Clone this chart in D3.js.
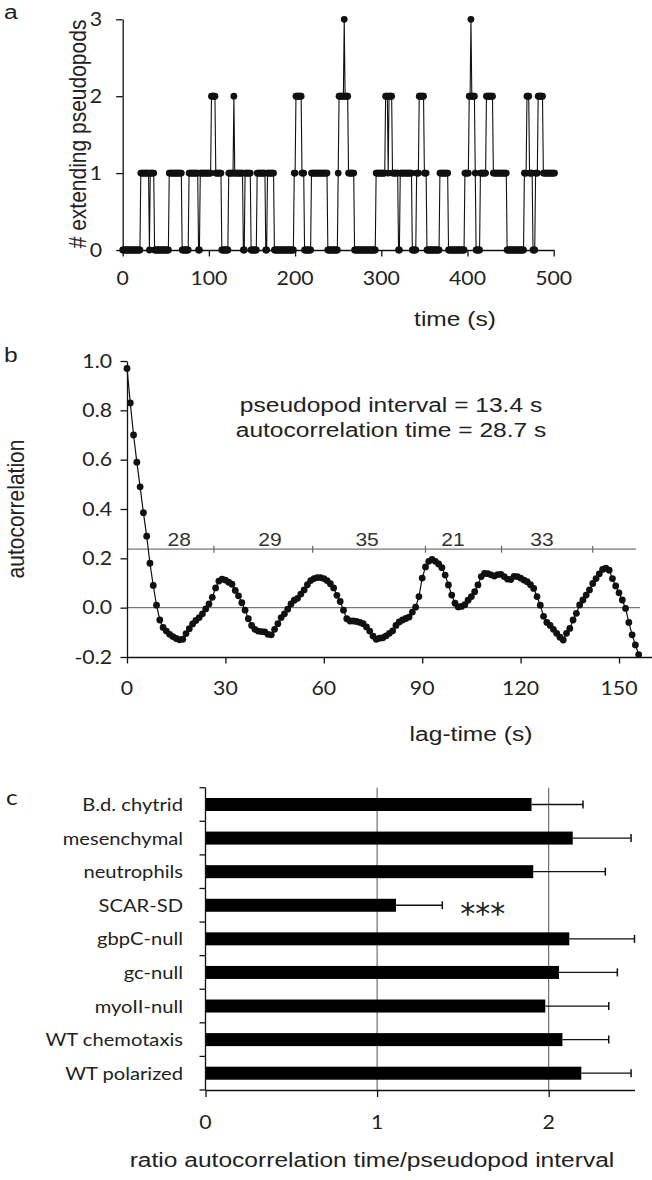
<!DOCTYPE html>
<html><head><meta charset="utf-8">
<script src="https://cdn.jsdelivr.net/npm/d3@7"></script>
<style>body{margin:0;background:#fff}svg{display:block}</style>
</head><body><svg id="fig" width="652" height="1180"></svg>
<script>
// ---------- Panel a: number of extending pseudopods (step runs, 1 s samples) ----------
const runStart = [0,21,31,32,37,54,69,77,88,90,103,108,115,123,129,130,140,142,149,156,166,168,176,199,201,208,211,219,238,250,251,257,258,262,269,294,305,308,309,313,320,322,336,341,344,350,353,368,378,397,402,404,405,409,410,415,422,430,446,466,469,472,476,479,482,488];
const runLevel = [0,1,0,1,0,1,0,1,0,1,2,1,0,1,2,1,0,1,0,1,0,1,0,1,2,1,0,1,0,1,2,3,2,1,0,1,2,1,2,1,0,1,0,1,2,1,0,1,0,1,2,3,2,1,0,1,2,1,0,1,2,1,0,1,2,1];
const seriesEnd = 501;
const timeTicks = [0,100,200,300,400,500];
const countTicks = [0,1,2,3];

// ---------- Panel b: autocorrelation per 1 s lag ----------
const acValues = [0.97,0.83,0.70,0.59,0.49,0.385,0.29,0.18,0.09,0.01,
 -0.05,-0.08,-0.095,-0.108,-0.117,-0.125,-0.13,-0.128,-0.105,-0.085,
 -0.066,-0.052,-0.04,-0.025,-0.005,0.015,0.042,0.08,0.108,0.116,
 0.112,0.103,0.095,0.07,0.048,0.02,-0.01,-0.045,-0.072,-0.088,
 -0.095,-0.097,-0.098,-0.108,-0.11,-0.088,-0.065,-0.04,-0.025,-0.006,
 0.015,0.03,0.038,0.055,0.072,0.093,0.11,0.118,0.122,0.122,
 0.118,0.11,0.097,0.08,0.05,0.025,-0.01,-0.045,-0.054,-0.054,
 -0.056,-0.06,-0.065,-0.078,-0.095,-0.115,-0.128,-0.124,-0.122,-0.114,
 -0.104,-0.094,-0.072,-0.058,-0.05,-0.044,-0.038,-0.018,0.002,0.045,
 0.12,0.165,0.188,0.196,0.188,0.177,0.162,0.132,0.092,0.051,
 0.018,0.003,0.005,0.012,0.03,0.045,0.065,0.092,0.126,0.139,
 0.138,0.133,0.128,0.134,0.135,0.126,0.116,0.114,0.127,0.126,
 0.12,0.112,0.105,0.093,0.078,0.045,0.01,-0.035,-0.06,-0.072,
 -0.088,-0.104,-0.12,-0.131,-0.104,-0.084,-0.05,-0.023,0.011,0.031,
 0.051,0.072,0.098,0.118,0.137,0.155,0.16,0.152,0.118,0.088,
 0.06,0.031,-0.003,-0.06,-0.11,-0.151,-0.19];
const lagTicks = [0,30,60,90,120,150];
const acTicks = [-0.2,0,0.2,0.4,0.6,0.8,1.0];
const intervalLevel = 0.237;
const intervalMarks = [26.5,56.6,91,114.2,142];
const intervalLabels = ["28","29","35","21","33"];
const intervalLabelLag = [15.9,43.6,73.2,99.4,126.5];
const statsLines = ["pseudopod interval = 13.4 s","autocorrelation time = 28.7 s"];

// ---------- Panel c: ratio autocorrelation time / pseudopod interval ----------
const categories = ["B.d. chytrid","mesenchymal","neutrophils","SCAR-SD","gbpC-null","gc-null","myoII-null","WT chemotaxis","WT polarized"];
const ratioMean = [1.90,2.14,1.91,1.11,2.12,2.06,1.98,2.08,2.19];
const ratioSD   = [0.30,0.34,0.42,0.27,0.38,0.34,0.37,0.27,0.29];
const ratioTicks = [0,1,2];
const sigIndex = 3, sigText = "***";

// ---------- drawing ----------
const svg = d3.select("#fig");
const ARIAL = "'Liberation Sans', Arial, sans-serif";
const CAL = "Lato, 'Open Sans', sans-serif";
const SX = 1.17;

function txt(g, x, y, s, o = {}) {
  const t = g.append("text").text(s)
    .attr("font-family", o.family || ARIAL)
    .attr("font-size", o.size || 21)
    .attr("fill", o.fill || "#222")
    .attr("text-anchor", o.anchor || "start");
  const sx = o.sx || SX;
  if (o.rot) t.attr("transform", `translate(${x},${y}) rotate(${o.rot}) scale(1,${sx})`);
  else t.attr("transform", `translate(${x},${y}) scale(${sx},1)`);
  return t;
}
function styleAxis(g) {
  g.select(".domain").attr("stroke", "#111").attr("stroke-width", 1.3);
  g.selectAll(".tick line").attr("stroke", "#111").attr("stroke-width", 1.3);
  g.selectAll(".tick text").remove();
}

// Panel a
{
  const x = d3.scaleLinear().domain([0, 500]).range([122.7, 553.7]);
  const y = d3.scaleLinear().domain([0, 3]).range([250, 19.3]);
  const samples = d3.range(0, seriesEnd + 1).map(t => {
    const i = d3.bisectRight(runStart, t) - 1;
    return { t, v: runLevel[i] };
  });
  const g = svg.append("g");
  g.append("g").attr("transform", `translate(0,${y(0)})`)
    .call(d3.axisBottom(x).tickValues(timeTicks).tickSize(6.5).tickSizeOuter(0)).call(styleAxis);
  g.append("g").attr("transform", `translate(${x(0)},0)`)
    .call(d3.axisLeft(y).tickValues(countTicks).tickSize(6.5).tickSizeOuter(0)).call(styleAxis);
  g.append("path").datum(samples)
    .attr("d", d3.line().x(d => x(d.t)).y(d => y(d.v)))
    .attr("fill", "none").attr("stroke", "#111").attr("stroke-width", 1.1);
  g.selectAll("circle").data(samples).join("circle")
    .attr("cx", d => x(d.t)).attr("cy", d => y(d.v)).attr("r", 3.4).attr("fill", "#111");
  countTicks.forEach(v => txt(g, 102, y(v) + 6.5, String(v), { family: CAL, size: 19, anchor: "end", sx: 1.12 }));
  timeTicks.forEach(v => txt(g, x(v), 285, String(v), { family: CAL, size: 19, anchor: "middle", sx: 1.12 }));
  txt(g, 455, 326, "time (s)", { anchor: "middle" });
  txt(g, 86, 134, "# extending pseudopods", { anchor: "middle", rot: -90 });
  txt(g, 4, 19, "a", { size: 21 });
}

// Panel b
{
  const x = d3.scaleLinear().domain([0, 160]).range([127, 651.8]);
  const y = d3.scaleLinear().domain([-0.2, 1.0]).range([657, 361]);
  const pts = acValues.map((v, i) => ({ t: i, v }));
  const g = svg.append("g");
  g.append("line").attr("x1", x(0)).attr("x2", 640).attr("y1", y(0)).attr("y2", y(0))
    .attr("stroke", "#777").attr("stroke-width", 1.2);
  g.append("line").attr("x1", x(0)).attr("x2", 636).attr("y1", y(intervalLevel)).attr("y2", y(intervalLevel))
    .attr("stroke", "#777").attr("stroke-width", 1.2);
  intervalMarks.forEach(m => g.append("line").attr("x1", x(m)).attr("x2", x(m))
    .attr("y1", y(intervalLevel) - 3.5).attr("y2", y(intervalLevel) + 3.5).attr("stroke", "#666").attr("stroke-width", 1.2));
  intervalLabels.forEach((s, i) => txt(g, x(intervalLabelLag[i]), y(intervalLevel) - 3, s, { size: 18, anchor: "middle", fill: "#333" }));
  g.append("g").attr("transform", `translate(0,${y(-0.2)})`)
    .call(d3.axisBottom(x).tickValues(lagTicks).tickSize(6.5).tickSizeOuter(0)).call(styleAxis);
  g.append("g").attr("transform", `translate(${x(0)},0)`)
    .call(d3.axisLeft(y).tickValues(acTicks).tickSize(6.5).tickSizeOuter(0)).call(styleAxis);
  g.append("path").datum(pts)
    .attr("d", d3.line().x(d => x(d.t)).y(d => y(d.v)))
    .attr("fill", "none").attr("stroke", "#111").attr("stroke-width", 1.2);
  g.selectAll("circle").data(pts).join("circle")
    .attr("cx", d => x(d.t)).attr("cy", d => y(d.v)).attr("r", 3.4).attr("fill", "#111");
  acTicks.forEach(v => txt(g, 112, y(v) + 6.5, d3.format(".1f")(v).replace("−", "-"), { family: CAL, size: 19, anchor: "end", sx: 1.12 }));
  lagTicks.forEach(v => txt(g, x(v), 695, String(v), { family: CAL, size: 19, anchor: "middle", sx: 1.12 }));
  txt(g, 471, 741, "lag-time (s)", { anchor: "middle" });
  txt(g, 24, 509, "autocorrelation", { anchor: "middle", rot: -90 });
  txt(g, 391, 412, statsLines[0], { anchor: "middle" });
  txt(g, 391, 437, statsLines[1], { anchor: "middle" });
  txt(g, 4, 362, "b", { size: 21 });
}

// Panel c
{
  const x = d3.scaleLinear().domain([0, 2.5]).range([205.5, 634.5]);
  const y = d3.scaleBand().domain(categories).range([787.7, 1090]).paddingInner(0).paddingOuter(0);
  const bh = 13;
  const g = svg.append("g");
  ratioTicks.filter(v => v > 0).forEach(v => g.append("line").attr("x1", x(v)).attr("x2", x(v))
    .attr("y1", 787.7).attr("y2", 1090).attr("stroke", "#555").attr("stroke-width", 1));
  g.selectAll("rect").data(categories).join("rect")
    .attr("x", x(0)).attr("y", d => y(d) + y.bandwidth() / 2 - bh / 2)
    .attr("width", (d, i) => x(ratioMean[i]) - x(0)).attr("height", bh).attr("fill", "#000");
  categories.forEach((c, i) => {
    const cy = y(c) + y.bandwidth() / 2, x1 = x(ratioMean[i]), x2 = x(ratioMean[i] + ratioSD[i]);
    g.append("line").attr("x1", x1).attr("x2", x2).attr("y1", cy).attr("y2", cy).attr("stroke", "#111").attr("stroke-width", 1.3);
    g.append("line").attr("x1", x2).attr("x2", x2).attr("y1", cy - 4).attr("y2", cy + 4).attr("stroke", "#111").attr("stroke-width", 1.5);
  });
  const bounds = categories.map(c => y(c)).concat([y.range()[1]]);
  g.append("line").attr("x1", x(0)).attr("x2", x(0)).attr("y1", 787.7).attr("y2", 1090).attr("stroke", "#111").attr("stroke-width", 1.3);
  bounds.forEach(b => g.append("line").attr("x1", x(0) - 6).attr("x2", x(0)).attr("y1", b).attr("y2", b).attr("stroke", "#111").attr("stroke-width", 1.3));
  g.append("g").attr("transform", `translate(0,1090)`)
    .call(d3.axisBottom(x).tickValues(ratioTicks).tickSize(7).tickSizeOuter(0)).call(styleAxis);
  categories.forEach(c => txt(g, 183, y(c) + y.bandwidth() / 2 + 6.5, c, { family: CAL, size: 18, anchor: "end", sx: 1.12 }));
  ratioTicks.forEach(v => txt(g, x(v), 1129, String(v), { family: CAL, size: 19, anchor: "middle", sx: 1.12 }));
  txt(g, x(ratioMean[sigIndex] + ratioSD[sigIndex]) + 18, y(categories[sigIndex]) + y.bandwidth() / 2 + 19, sigText, { family: "'DejaVu Sans', sans-serif", size: 30, sx: 1.0, fill: "#222" });
  txt(g, 372, 1167, "ratio autocorrelation time/pseudopod interval", { anchor: "middle" });
  txt(g, 6, 805, "c", { family: CAL, size: 21 });
}
</script></body></html>
